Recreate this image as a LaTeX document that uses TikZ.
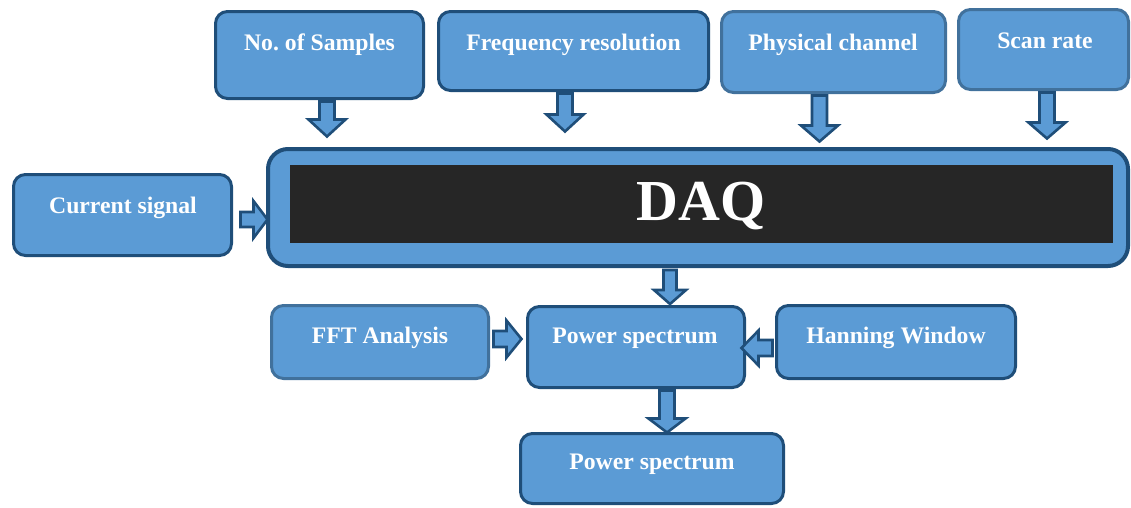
\documentclass[tikz,border=0pt]{standalone}
\usepackage{fontspec}
\setmainfont{Liberation Serif}
\usetikzlibrary{calc}
\frenchspacing
\definecolor{boxfill}{HTML}{5B9BD5}
\definecolor{darkedge}{HTML}{1F4E79}
\definecolor{lightedge}{HTML}{41719C}
\definecolor{daqblack}{HTML}{262626}
\tikzset{
  box/.style={draw=darkedge, fill=boxfill, line width=3pt, rounded corners=12pt, inner sep=0pt},
  lbox/.style={box, draw=lightedge},
  lbl/.style={text=white, font=\fontsize{23.7}{28}\selectfont\bfseries, anchor=base, inner sep=0pt},
  barrow/.style={draw=darkedge, fill=boxfill, line width=2.6pt, line join=miter},
}
\begin{document}
\begin{tikzpicture}[x=1pt,y=-1pt]
\useasboundingbox (0,0) rectangle (1131,507);
% top boxes
\node[box, minimum width=208, minimum height=87] (ns) at (319.5,55) {};
\node[box, minimum width=270, minimum height=79] (fr) at (573.5,51) {};
\node[lbox, minimum width=224, minimum height=81] (pc) at (833.5,52) {};
\node[lbox, minimum width=170, minimum height=80] (sr) at (1043.5,49.5) {};
\node[lbl] (nst) at (319.5,50) {No.\ of Samples};
\node[lbl] (frt) at (573.5,50) {Frequency resolution};
\node[lbl] (pct) at (833,50) {Physical channel};
\node[lbl] (srt) at (1045,48) {Scan rate};
% DAQ
\node[box, line width=4pt, rounded corners=20pt, minimum width=860, minimum height=117] (daq) at (698,207.5) {};
\node[fill=daqblack, minimum width=823, minimum height=78, inner sep=0pt] (daqin) at (701.5,204) {};
\node[text=white, font=\fontsize{58}{60}\selectfont\bfseries, anchor=base, inner sep=0pt] (daqt) at (701,220) {DAQ};
% current signal
\node[box, minimum width=218, minimum height=81] (cs) at (122.5,215) {};
\node[lbl] (cst) at (123,213) {Current signal};
% middle row
\node[lbox, minimum width=217, minimum height=73] (fft) at (380,342) {};
\node[box, minimum width=217, minimum height=81] (ps) at (636,347) {};
\node[box, minimum width=239, minimum height=73] (hw) at (896,342) {};
\node[lbl] (fftt) at (380,343) {FFT Analysis};
\node[lbl] (pst) at (635,343) {Power spectrum};
\node[lbl] (hwt) at (896,343) {Hanning Window};
% bottom
\node[box, minimum width=263, minimum height=70] (ps2) at (652,468.5) {};
\node[lbl] (ps2t) at (652,469) {Power spectrum};
% down arrows
\draw[barrow] ($(ns.south)+(7.5,1.5)$) ++(-7.5,0) -- ++(0,18) -- ++(-11,0) -- ++(18.5,17) -- ++(18.5,-17) -- ++(-11,0) -- ++(0,-18) -- cycle;
\draw[barrow] ($(fr.south)+(-8.5,1.5)$) ++(-7.5,0) -- ++(0,21) -- ++(-11,0) -- ++(18.5,17) -- ++(18.5,-17) -- ++(-11,0) -- ++(0,-21) -- cycle;
\draw[barrow] ($(pc.south)+(-14,1.5)$) ++(-7.5,0) -- ++(0,30) -- ++(-11,0) -- ++(18.5,16) -- ++(18.5,-16) -- ++(-11,0) -- ++(0,-30) -- cycle;
\draw[barrow] ($(sr.south)+(3.5,1.5)$) ++(-7.5,0) -- ++(0,30) -- ++(-11,0) -- ++(18.5,16) -- ++(18.5,-16) -- ++(-11,0) -- ++(0,-30) -- cycle;
\draw[barrow] ($(daq.south)+(-28,2)$) ++(-6.5,0) -- ++(0,20) -- ++(-9.5,0) -- ++(16,14) -- ++(16,-14) -- ++(-9.5,0) -- ++(0,-20) -- cycle;
\draw[barrow] ($(ps.south)+(31,1.5)$) ++(-7.5,0) -- ++(0,28) -- ++(-11,0) -- ++(18.5,14) -- ++(18.5,-14) -- ++(-11,0) -- ++(0,-28) -- cycle;
% right arrows
\draw[barrow] ($(cs.east)+(7.5,4.5)$) ++(0,-7.5) -- ++(13,0) -- ++(0,-11) -- ++(14,18.5) -- ++(-14,18.5) -- ++(0,-11) -- ++(-13,0) -- cycle;
\draw[barrow] ($(fft.east)+(3.5,-3)$) ++(0,-8) -- ++(13,0) -- ++(0,-10.5) -- ++(15,18.5) -- ++(-15,18.5) -- ++(0,-10.5) -- ++(-13,0) -- cycle;
% left arrow
\draw[barrow] ($(hw.west)+(-2.5,6)$) ++(0,-8) -- ++(-14,0) -- ++(0,-9.5) -- ++(-17,17.5) -- ++(17,17.5) -- ++(0,-9.5) -- ++(14,0) -- cycle;
\end{tikzpicture}
\end{document}
